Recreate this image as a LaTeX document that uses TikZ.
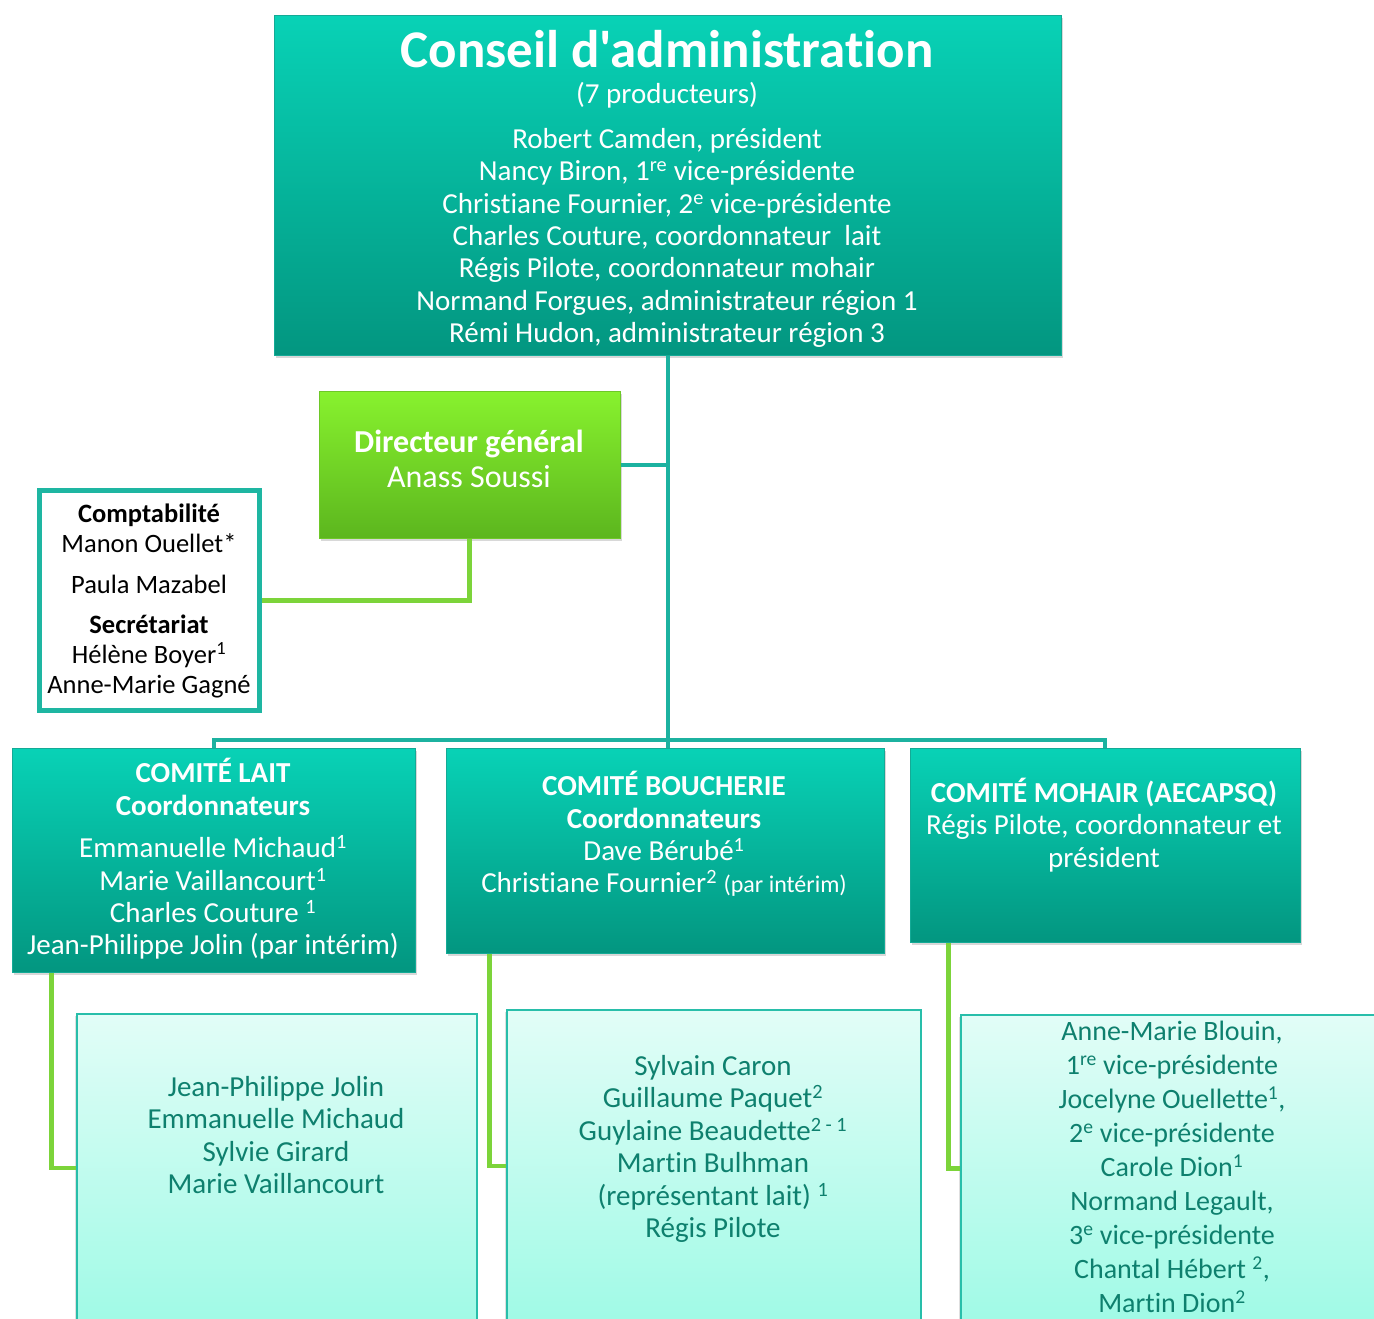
\documentclass[tikz,border=0pt]{standalone}
\usepackage{fontspec}
\setmainfont{Carlito}[Ligatures={TeXOff,NoCommon}]
\usetikzlibrary{positioning, shadows}

\begin{document}
\begin{tikzpicture}[x=1pt,y=-1pt,
  tealbox/.style={rectangle, inner sep=0pt, top color=tealTop, bottom color=tealBot, draw=tealEdge, line width=1pt,
    drop shadow={shadow xshift=2pt, shadow yshift=-3pt, opacity=0.3}},
  greenbox/.style={rectangle, inner sep=0pt, top color=greenTop, bottom color=greenBot, draw=greenEdge, line width=1pt,
    drop shadow={shadow xshift=2pt, shadow yshift=-3pt, opacity=0.3}},
  palebox/.style={rectangle, inner sep=0pt, top color=paleTop, bottom color=paleBot, draw=paleEdge, line width=1.5pt,
    drop shadow={shadow xshift=-2pt, shadow yshift=-2pt, opacity=0.25}},
  whitebox/.style={rectangle, inner sep=0pt, fill=white, draw=comptaEdge, line width=5pt},
  bodytext/.style={inner sep=0pt, align=center, font=\fontsize{29}{32.4}\selectfont},
  tealline/.style={draw=lineTeal, line width=4pt},
  greenline/.style={draw=lineGreen, line width=4.5pt}]
\definecolor{tealTop}{RGB}{8,210,182}
\definecolor{tealBot}{RGB}{3,150,128}
\definecolor{tealEdge}{RGB}{20,170,150}
\definecolor{greenTop}{RGB}{136,242,46}
\definecolor{greenBot}{RGB}{92,182,30}
\definecolor{greenEdge}{RGB}{110,200,40}
\definecolor{paleTop}{RGB}{226,253,247}
\definecolor{paleBot}{RGB}{160,250,230}
\definecolor{paleEdge}{RGB}{40,190,170}
\definecolor{paleText}{RGB}{14,128,110}
\definecolor{comptaEdge}{RGB}{30,182,162}
\definecolor{lineTeal}{RGB}{28,178,160}
\definecolor{lineGreen}{RGB}{124,212,58}

\path[use as bounding box,fill=white] (0,0) rectangle (1374,1318);

\coordinate (bus) at (0,740);

\node[tealbox, minimum width=787pt, minimum height=340pt] (conseil) at (667.5,185) {};
\node[greenbox, minimum width=301pt, minimum height=147pt] (directeur) at (469.5,464.5) {};
\node[whitebox, minimum width=220pt, minimum height=220pt] (compta) at (149.5,600.5) {};
\node[tealbox, minimum width=403pt, minimum height=224pt] (lait) at (213.5,860) {};
\node[tealbox, minimum width=438pt, minimum height=205pt] (boucherie) at (665,850.5) {};
\node[tealbox, minimum width=390pt, minimum height=194pt] (mohair) at (1105,845) {};
\node[palebox, minimum width=400pt, minimum height=308pt] (laitmembres) at (277,1168) {};
\node[palebox, minimum width=414pt, minimum height=312pt] (boucheriemembres) at (714,1166) {};
\node[palebox, minimum width=429pt, minimum height=307pt] (mohairmembres) at (1175.5,1168.5) {};

\path[tealline] (conseil.south) -- (conseil.south |- boucherie.north);
\path[tealline] (directeur.east) -- (directeur.east -| conseil.south);
\path[tealline] (lait.north) -- (lait.north |- bus) -- (mohair.north |- bus) -- (mohair.north);
\path[greenline] (directeur.south) |- (compta.east);
\path[greenline] ([xshift=40pt]lait.south west) |- (laitmembres.west);
\path[greenline] ([xshift=44pt]boucherie.south west) |- (boucheriemembres.west);
\path[greenline] ([xshift=39pt]mohair.south west) |- (mohairmembres.west);

\node[inner sep=0pt, text=white, font=\fontsize{53}{56}\selectfont\bfseries] (conseiltitre) at (667,49) {Conseil d'administration};
\node[bodytext, text=white] (conseilsous) at (667,95) {(7 producteurs)};
\node[bodytext, text=white] (conseiltexte) at (667,238) {Robert Camden, président\\
  Nancy Biron, 1\textsuperscript{re} vice-présidente\\
  Christiane Fournier, 2\textsuperscript{e} vice-présidente\\
  Charles Couture, coordonnateur\ \ lait\\
  Régis Pilote, coordonnateur mohair\\
  Normand Forgues, administrateur région 1\\
  Rémi Hudon, administrateur région 3};

\node[inner sep=0pt, align=center, text=white, font=\fontsize{32}{35}\selectfont] (directeurtexte) at (469,459) {\textbf{Directeur général}\\Anass Soussi};

\node[inner sep=0pt, align=center, text=black, font=\fontsize{26.5}{30}\selectfont] (comptatexte) at (149,601) {\textbf{Comptabilité}\\Manon Ouellet*\\[11pt]
  Paula Mazabel\\[10pt]
  \textbf{Secrétariat}\\Hélène Boyer\textsuperscript{1}\\Anne-Marie Gagné};

\node[bodytext, text=white] (laittexte) at (213,859) {\textbf{COMITÉ LAIT}\\
  \textbf{Coordonnateurs}\\[10pt]
  Emmanuelle Michaud\textsuperscript{1}\\
  Marie Vaillancourt\textsuperscript{1}\\
  Charles Couture \textsuperscript{1}\\
  Jean-Philippe Jolin (par intérim)};

\node[bodytext, text=white] (boucherietexte) at (664,834) {\textbf{COMITÉ BOUCHERIE}\\
  \textbf{Coordonnateurs}\\
  Dave Bérubé\textsuperscript{1}\\
  Christiane Fournier\textsuperscript{2} {\fontsize{24}{24}\selectfont(par intérim)}};

\node[bodytext, text=white] (mohairtexte) at (1104,825) {\textbf{COMITÉ MOHAIR (AECAPSQ)}\\
  Régis Pilote, coordonnateur et\\
  président};

\node[bodytext, text=paleText] (laitmembrestexte) at (276,1135) {Jean-Philippe Jolin\\
  Emmanuelle Michaud\\
  Sylvie Girard\\
  Marie Vaillancourt};

\node[bodytext, text=paleText] (boucheriemembrestexte) at (713,1149) {Sylvain Caron\\
  Guillaume Paquet\textsuperscript{2}\\
  Guylaine Beaudette\textsuperscript{2 - 1}\\
  Martin Bulhman\\
  (représentant lait) \textsuperscript{1}\\
  Régis Pilote};

\node[inner sep=0pt, align=center, text=paleText, font=\fontsize{28}{34}\selectfont] (mohairmembrestexte) at (1172,1167) {Anne-Marie Blouin,\\
  1\textsuperscript{re} vice-présidente\\
  Jocelyne Ouellette\textsuperscript{1},\\
  2\textsuperscript{e} vice-présidente\\
  Carole Dion\textsuperscript{1}\\
  Normand Legault,\\
  3\textsuperscript{e} vice-présidente\\
  Chantal Hébert \textsuperscript{2},\\
  Martin Dion\textsuperscript{2}};
\end{tikzpicture}
\end{document}
